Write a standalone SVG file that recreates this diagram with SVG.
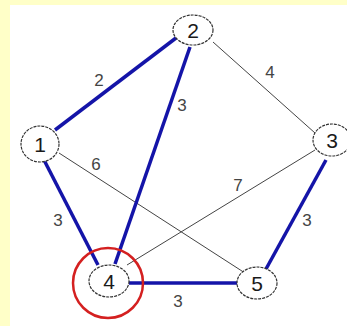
<svg xmlns="http://www.w3.org/2000/svg" width="347" height="326" viewBox="0 0 347 326">
<style>
.bg{fill:#ffffc8}
.panel{fill:#ffffff}
.thin{stroke:#444;stroke-width:1;fill:none}
.blue{stroke:#1414a8;stroke-width:3.5;fill:none}
.node ellipse{fill:#fff;stroke:#333;stroke-width:1.2;stroke-dasharray:3 1}
.node text{font-family:"Liberation Sans",Arial,sans-serif;font-size:21px;fill:#1a1a1a;text-anchor:middle}
.lbl{font-family:"Liberation Sans",Arial,sans-serif;font-size:17px;fill:#444;text-anchor:middle}
</style>
<rect class="bg" x="0" y="0" width="347" height="326"/>
<rect class="panel" x="10" y="5" width="337" height="321"/>
<g id="connectors">
<line class="thin" x1="213" y1="42" x2="315" y2="133"/>
<line class="thin" x1="59" y1="153" x2="245" y2="273"/>
<line class="thin" x1="315" y1="150" x2="127" y2="265"/>
<line class="blue" x1="55" y1="130" x2="176" y2="38"/>
<line class="blue" x1="190" y1="47" x2="115" y2="264"/>
<line class="blue" x1="44" y1="160" x2="98" y2="265"/>
<line class="blue" x1="326" y1="160" x2="266" y2="269"/>
<line class="blue" x1="129" y1="283" x2="237" y2="283"/>
<text class="lbl" x="99" y="86">2</text>
<text class="lbl" x="182" y="111">3</text>
<text class="lbl" x="270" y="78">4</text>
<text class="lbl" x="96" y="170">6</text>
<text class="lbl" x="238" y="191">7</text>
<text class="lbl" x="58" y="226">3</text>
<text class="lbl" x="307" y="226">3</text>
<text class="lbl" x="178" y="307">3</text>
</g>
<g id="node2" class="node"><ellipse cx="193" cy="30" rx="20" ry="15"/><text x="193" y="37.5">2</text></g>
<g id="node1" class="node"><ellipse cx="40" cy="144" rx="19" ry="18"/><text x="40" y="151.5">1</text></g>
<g id="node3" class="node"><ellipse cx="332" cy="140" rx="19" ry="16"/><text x="332" y="147.5">3</text></g>
<g id="node4" class="node"><ellipse cx="109" cy="281" rx="20" ry="16"/><text x="109" y="288.5">4</text></g>
<g id="node5" class="node"><ellipse cx="257" cy="283" rx="20" ry="16"/><text x="257" y="290.5">5</text></g>
<g id="highlight"><circle cx="108" cy="283" r="35" fill="none" stroke="#d42020" stroke-width="2.5"/></g>
</svg>
